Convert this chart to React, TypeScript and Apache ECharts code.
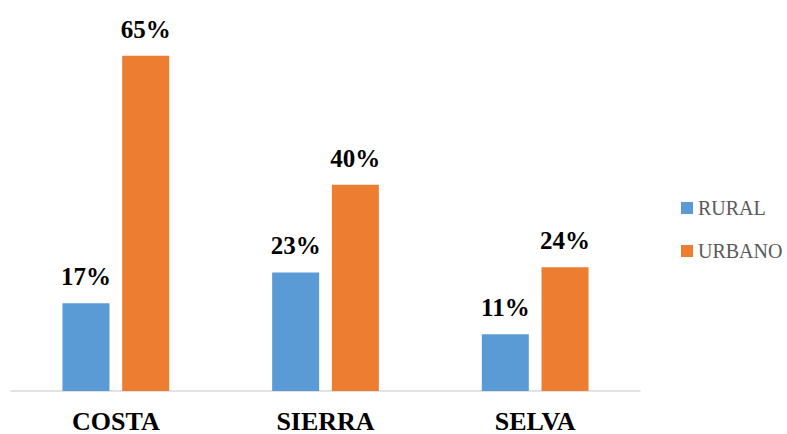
import React, { useEffect, useRef } from "react";
import * as echarts from "echarts";

const categories = ["COSTA", "SIERRA", "SELVA"];
const rural = [17, 23, 11];
const urbano = [65, 40, 24];
const seriesNames = ["RURAL", "URBANO"];

const SERIF = "'Liberation Serif', 'Times New Roman', Times, serif";

export default function App() {
  const ref = useRef<HTMLDivElement>(null);
  useEffect(() => {
    if (!ref.current) return;
    const chart = echarts.init(ref.current, null, { renderer: "svg" });
    const labelStyle = {
      show: true,
      position: "top",
      distance: 14,
      formatter: "{c}%",
      fontFamily: SERIF,
      fontWeight: "bold",
      fontSize: 25,
      color: "#000000",
    };
    chart.setOption({
      animation: false,
      backgroundColor: "#ffffff",
      textStyle: { fontFamily: SERIF },
      grid: { left: 11, right: 147, top: 30, bottom: 41.5 },
      legend: {
        orient: "vertical",
        left: 676,
        top: 193,
        itemWidth: 12,
        itemHeight: 12,
        itemGap: 23,
        icon: "rect",
        textStyle: { fontFamily: SERIF, fontSize: 20, color: "#595959", fontWeight: "normal" },
        data: seriesNames,
      },
      xAxis: {
        type: "category",
        data: categories,
        axisLine: { lineStyle: { color: "#D9D9D9", width: 1.5 } },
        axisTick: { show: false },
        axisLabel: {
          margin: 17,
          fontFamily: SERIF,
          fontWeight: "bold",
          fontSize: 26,
          color: "#000000",
        },
      },
      yAxis: {
        type: "value",
        min: 0,
        max: 70,
        show: false,
        splitLine: { show: false },
      },
      series: [
        {
          name: seriesNames[0],
          type: "bar",
          data: rural,
          barWidth: 47,
          barGap: "27%",
          itemStyle: { color: "#5B9BD5" },
          label: labelStyle,
        },
        {
          name: seriesNames[1],
          type: "bar",
          data: urbano,
          barWidth: 47,
          barGap: "27%",
          itemStyle: { color: "#ED7D31" },
          label: labelStyle,
        },
      ],
    });
    return () => chart.dispose();
  }, []);
  return (
    <div
      ref={ref}
      style={{ position: "fixed", left: 0, top: 0, width: 787, height: 434 }}
    />
  );
}
